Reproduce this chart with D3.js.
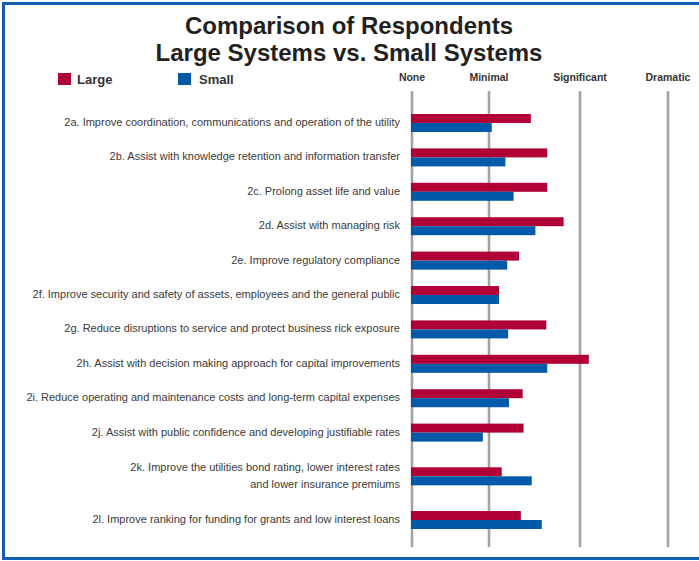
<!DOCTYPE html>
<html>
<head>
<meta charset="utf-8">
<script src="https://cdn.jsdelivr.net/npm/d3@7"></script>
<style>
  html, body { margin: 0; padding: 0; background: #fff; }
  svg { display: block; font-family: "Liberation Sans", Arial, sans-serif; }
</style>
</head>
<body>
<svg id="chart" width="699" height="561"></svg>
<script>
// ---- data ----
const categories = [
  "2a. Improve coordination, communications and operation of the utility",
  "2b. Assist with knowledge retention and information transfer",
  "2c. Prolong asset life and value",
  "2d. Assist with managing risk",
  "2e. Improve regulatory compliance",
  "2f. Improve security and safety of assets, employees and the general public",
  "2g. Reduce disruptions to service and protect business rick exposure",
  "2h. Assist with decision making approach for capital improvements",
  "2i. Reduce operating and maintenance costs and long-term capital expenses",
  "2j. Assist with public confidence and developing justifiable rates",
  "2k. Improve the utilities bond rating, lower interest rates\nand lower insurance premiums",
  "2l. Improve ranking for funding for grants and low interest loans"
];
const largeValues = [1.46, 1.64, 1.64, 1.82, 1.33, 1.11, 1.63, 2.10, 1.37, 1.38, 1.14, 1.35];
const smallValues = [1.03, 1.18, 1.27, 1.51, 1.20, 1.11, 1.21, 1.64, 1.22, 0.92, 1.47, 1.58];
const levelLabels = ["None", "Minimal", "Significant", "Dramatic"];
const levelValues = [0, 1, 2, 3];
const seriesNames = ["Large", "Small"];
const seriesColors = ["#b00036", "#005aa9"];

// ---- layout ----
const svg = d3.select("#chart");

// frame
svg.append("rect")
  .attr("x", 3.5).attr("y", 3.5).attr("width", 740).attr("height", 555)
  .attr("fill", "none").attr("stroke", "#0f5fae").attr("stroke-width", 3);

// title
const titleLines = ["Comparison of Respondents", "Large Systems vs. Small Systems"];
svg.selectAll("text.title").data(titleLines).join("text").attr("class", "title")
  .attr("x", 349).attr("y", (d, i) => 34 + i * 27)
  .attr("text-anchor", "middle")
  .attr("font-weight", "bold").attr("font-size", 24).attr("fill", "#231f20")
  .text(d => d);

// legend
const legendX = d3.scalePoint().domain(seriesNames).range([58, 178]);
const lg = svg.selectAll("g.legend").data(seriesNames).join("g").attr("class", "legend")
  .attr("transform", d => `translate(${legendX(d)},73)`);
lg.append("rect").attr("width", 13).attr("height", 12)
  .attr("fill", (d, i) => seriesColors[i]);
lg.append("text").attr("x", (d, i) => i === 0 ? 19 : 21).attr("y", 11)
  .attr("font-weight", "bold").attr("font-size", 13).attr("fill", "#333")
  .text(d => d);

// scales
const x = d3.scaleLinear().domain(levelValues).range([412, 489, 580, 668]);

const lines = categories.map(c => c.split("\n"));
const weights = lines.map(l => 1 + 0.54 * (l.length - 1));
const centers = [];
let acc = 0;
weights.forEach(w => { centers.push(acc + w / 2); acc += w; });
const y = d3.scaleLinear().domain([centers[0], centers[centers.length - 1]]).range([123, 520]);
const barH = 9;

// level labels
svg.selectAll("text.level").data(levelValues).join("text").attr("class", "level")
  .attr("x", d => x(d)).attr("y", 81)
  .attr("text-anchor", "middle").attr("font-weight", "bold").attr("font-size", 10.5)
  .attr("fill", "#333").text((d, i) => levelLabels[i]);

// gridlines
svg.selectAll("line.grid").data(levelValues).join("line").attr("class", "grid")
  .attr("x1", d => x(d)).attr("x2", d => x(d))
  .attr("y1", 91).attr("y2", 547)
  .attr("stroke", "#a3a3a3").attr("stroke-width", 2.6);

// bars
const rows = categories.map((c, i) => ({ i, large: largeValues[i], small: smallValues[i] }));
const g = svg.selectAll("g.row").data(rows).join("g").attr("class", "row")
  .attr("transform", d => `translate(0,${y(centers[d.i])})`);
g.append("rect").attr("x", x(0) - 1).attr("y", -barH)
  .attr("width", d => x(d.large) - x(0) + 1).attr("height", barH)
  .attr("fill", seriesColors[0]);
g.append("rect").attr("x", x(0) - 1).attr("y", 0)
  .attr("width", d => x(d.small) - x(0) + 1).attr("height", barH)
  .attr("fill", seriesColors[1]);

// category labels
g.append("text")
  .attr("text-anchor", "end").attr("font-size", 11).attr("fill", "#3a3a3a")
  .each(function(d) {
    const ls = lines[d.i];
    const t = d3.select(this);
    const lh = 17;
    ls.forEach((s, k) => {
      t.append("tspan").attr("x", 400)
        .attr("y", 3 + (k - (ls.length - 1) / 2) * lh)
        .text(s);
    });
  });
</script>
</body>
</html>
